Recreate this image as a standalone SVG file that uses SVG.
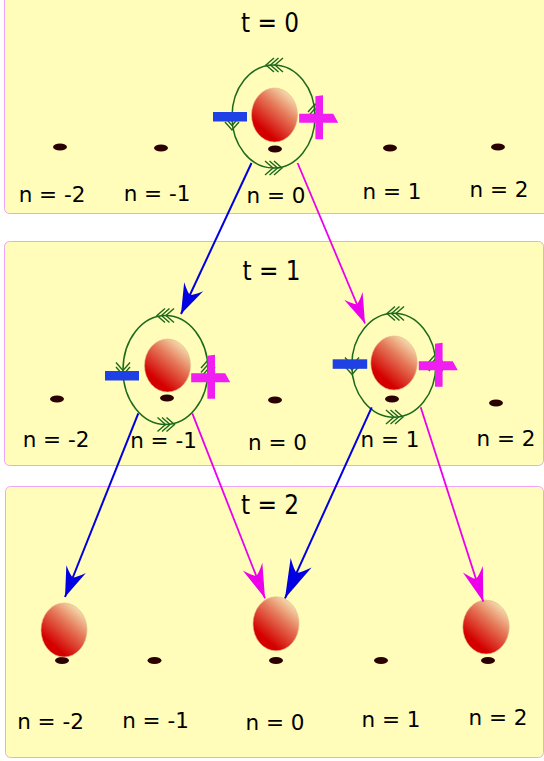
<svg xmlns="http://www.w3.org/2000/svg" width="544" height="761" viewBox="0 0 544 761">
<defs>
<style>
.panel{fill:#fffdb9;stroke:#f3a3f3;stroke-width:1}
.title{font-family:"DejaVu Sans Condensed","DejaVu Sans",sans-serif;font-size:27px;fill:#000;text-anchor:middle}
.lbl{font-family:"DejaVu Sans",sans-serif;font-size:21.5px;fill:#000;text-anchor:middle}
.dot{fill:#2b0000}
.ball{fill:url(#ballg);stroke:#e3b98a;stroke-width:0.6}
.ring{fill:none;stroke:#1c6a1c;stroke-width:1.5}
.chev{fill:none;stroke:#1c6a1c;stroke-width:1.4}
.minus{fill:#1f40e4}
.plus{fill:#f01ef0}
.cb{fill:none;stroke:#0000e0;stroke-width:2}
.cm{fill:none;stroke:#ec00ec;stroke-width:1.8}
</style>
<linearGradient id="ballg" x1="0.85" y1="0.05" x2="0.3" y2="0.8">
<stop offset="0" stop-color="#f8ecbc"/>
<stop offset="0.45" stop-color="#e57a5a"/>
<stop offset="1" stop-color="#d40000"/>
</linearGradient>
<path id="chev" class="chev" d="M0,-7 L8,0 L0,7 M-4.5,-7 L3.5,0 L-4.5,7 M-9,-7 L-1,0 L-9,7"/>
<path id="plusp" d="M-20,-4.5 H14 L19,4.5 H-20 Z M-3.8,-22 L3.8,-23 V21 H-3.8 Z"/>
<marker id="ab1" markerUnits="userSpaceOnUse" viewBox="-32 -12 34 24" markerWidth="34" markerHeight="24" refX="0" refY="0" orient="auto">
<path d="M0,0 L-30,-10.5 Q-22,-3 -21,0 Q-22,3 -30,10.5 Z" fill="#0000e0"/>
</marker>
<marker id="ab2" markerUnits="userSpaceOnUse" viewBox="-41 -13 43 26" markerWidth="43" markerHeight="26" refX="0" refY="0" orient="auto">
<path d="M0,0 L-39,-11.5 Q-29,-3 -28,0 Q-29,3 -39,11.5 Z" fill="#0000e0"/>
</marker>
<marker id="am1" markerUnits="userSpaceOnUse" viewBox="-32 -12 34 24" markerWidth="34" markerHeight="24" refX="0" refY="0" orient="auto">
<path d="M0,0 L-30,-10 Q-22,-3 -21,0 Q-22,3 -30,10 Z" fill="#ec00ec"/>
</marker>
<marker id="am2" markerUnits="userSpaceOnUse" viewBox="-36 -12 38 24" markerWidth="38" markerHeight="24" refX="0" refY="0" orient="auto">
<path d="M0,0 L-34,-10.5 Q-25,-3 -24,0 Q-25,3 -34,10.5 Z" fill="#ec00ec"/>
</marker>
</defs>

<g id="panel-t0">
<rect class="panel" x="4.5" y="-10" width="550" height="223.5" rx="5"/>
<text class="title" x="270" y="32" textLength="58" lengthAdjust="spacingAndGlyphs">t = 0</text>
<ellipse class="dot" cx="60" cy="147" rx="7" ry="3.5"/>
<ellipse class="dot" cx="161" cy="148" rx="7" ry="3.5"/>
<ellipse class="dot" cx="275" cy="149" rx="7" ry="3.5"/>
<ellipse class="dot" cx="390" cy="148" rx="7" ry="3.5"/>
<ellipse class="dot" cx="498" cy="147" rx="7" ry="3.5"/>
<text class="lbl" x="52" y="201.5">n = -2</text>
<text class="lbl" x="157" y="201">n = -1</text>
<text class="lbl" x="276" y="202.5">n = 0</text>
<text class="lbl" x="392" y="199">n = 1</text>
<text class="lbl" x="499" y="196.5">n = 2</text>
</g>

<g id="panel-t1">
<rect class="panel" x="4.5" y="241.5" width="539" height="224" rx="5"/>
<text class="title" x="271.5" y="279.5" textLength="58" lengthAdjust="spacingAndGlyphs">t = 1</text>
<ellipse class="dot" cx="57" cy="399" rx="7" ry="3.5"/>
<ellipse class="dot" cx="167" cy="398" rx="7" ry="3.5"/>
<ellipse class="dot" cx="275" cy="400" rx="7" ry="3.5"/>
<ellipse class="dot" cx="392" cy="399" rx="7" ry="3.5"/>
<ellipse class="dot" cx="496" cy="403" rx="7" ry="3.5"/>
<text class="lbl" x="56" y="446.5">n = -2</text>
<text class="lbl" x="163.5" y="447.5">n = -1</text>
<text class="lbl" x="277.5" y="449.5">n = 0</text>
<text class="lbl" x="390" y="447">n = 1</text>
<text class="lbl" x="506" y="446">n = 2</text>
</g>

<g id="panel-t2">
<rect class="panel" x="5.5" y="486.5" width="538" height="271" rx="5"/>
<text class="title" x="270" y="514" textLength="58" lengthAdjust="spacingAndGlyphs">t = 2</text>
<ellipse class="dot" cx="62" cy="660.5" rx="7" ry="3.5"/>
<ellipse class="dot" cx="154.5" cy="660.5" rx="7" ry="3.5"/>
<ellipse class="dot" cx="276" cy="660.5" rx="7" ry="3.5"/>
<ellipse class="dot" cx="381" cy="660.5" rx="7" ry="3.5"/>
<ellipse class="dot" cx="488" cy="660.5" rx="7" ry="3.5"/>
<text class="lbl" x="50.5" y="729">n = -2</text>
<text class="lbl" x="155.5" y="728">n = -1</text>
<text class="lbl" x="275" y="730">n = 0</text>
<text class="lbl" x="391" y="727">n = 1</text>
<text class="lbl" x="498" y="725">n = 2</text>
</g>

<g id="node-t0-n0">
<ellipse class="ring" cx="273.5" cy="116.5" rx="41.5" ry="51.5"/>
<use href="#chev" transform="translate(274,65) rotate(180)"/>
<use href="#chev" transform="translate(274,168)"/>
<use href="#chev" transform="translate(232,122) rotate(90)"/>
<use href="#chev" transform="translate(315,112) rotate(-90)"/>
<ellipse class="ball" cx="274.5" cy="115" rx="23" ry="27"/>
<rect class="minus" x="213" y="112" width="34" height="9.5"/>
<use href="#plusp" class="plus" transform="translate(319.2,118.3)"/>
</g>

<g id="node-t1-nm1">
<ellipse class="ring" cx="165.5" cy="370" rx="42.5" ry="54.5"/>
<use href="#chev" transform="translate(165,315.5) rotate(180)"/>
<use href="#chev" transform="translate(166.5,424.5)"/>
<use href="#chev" transform="translate(123,371.5) rotate(90)"/>
<use href="#chev" transform="translate(208,368) rotate(-90)"/>
<ellipse class="ball" cx="167.5" cy="365.5" rx="23" ry="26.5"/>
<rect class="minus" x="105" y="371" width="34" height="9.5"/>
<use href="#plusp" class="plus" transform="translate(211.2,377.8)"/>
</g>

<g id="node-t1-n1">
<ellipse class="ring" cx="393.8" cy="365.3" rx="42" ry="52"/>
<use href="#chev" transform="translate(395,313.5) rotate(180)"/>
<use href="#chev" transform="translate(395,417)"/>
<use href="#chev" transform="translate(352,366.5) rotate(90)"/>
<use href="#chev" transform="translate(435.8,362) rotate(-90)"/>
<ellipse class="ball" cx="394" cy="363" rx="23.2" ry="27"/>
<rect class="minus" x="332.7" y="359.3" width="34.5" height="9.5"/>
<use href="#plusp" class="plus" transform="translate(438.8,365.8)"/>
</g>

<g id="node-t2-nm2">
<ellipse class="ball" cx="64" cy="630" rx="23" ry="27"/>
</g>
<g id="node-t2-n0">
<ellipse class="ball" cx="276" cy="623.8" rx="23" ry="27"/>
</g>
<g id="node-t2-n2">
<ellipse class="ball" cx="486" cy="627" rx="23.2" ry="27"/>
</g>

<g id="connectors">
<path class="cb" d="M251.5,163 L181,314" marker-end="url(#ab1)"/>
<path class="cm" d="M297.6,163 L365,323.5" marker-end="url(#am1)"/>
<path class="cb" d="M138.3,413.3 L65,597" marker-end="url(#ab1)"/>
<path class="cm" d="M192.3,413.3 L265,598.3" marker-end="url(#am2)"/>
<path class="cb" d="M371.7,407.3 L285,598.3" marker-end="url(#ab2)"/>
<path class="cm" d="M420.7,407.3 L483.3,601.7" marker-end="url(#am2)"/>
</g>
</svg>
